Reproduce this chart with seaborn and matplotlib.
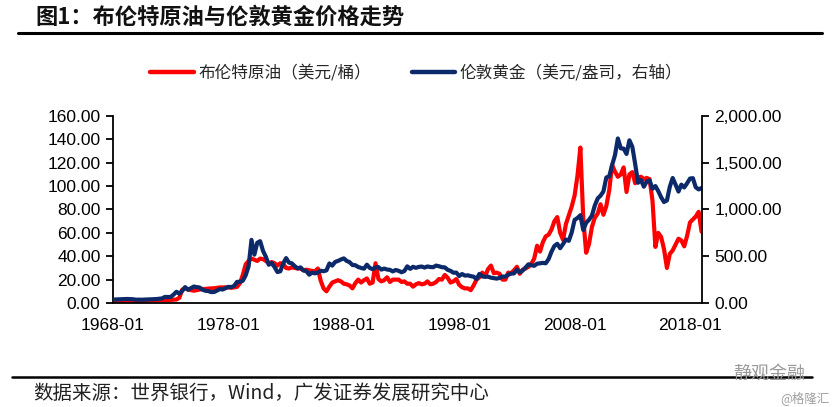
import numpy as np
import pandas as pd
import matplotlib
matplotlib.use("Agg")
import matplotlib.pyplot as plt
import matplotlib.ticker as mticker
from matplotlib.lines import Line2D
import seaborn as sns

# quarterly samples (Jan / Apr / Jul / Oct), 1968-01 .. 2019-01
dates = pd.date_range("1968-01-01", "2019-01-01", freq="QS")

brent = [
    1.9, 1.9, 1.9, 1.9,        # 1968
    1.8, 1.8, 1.8, 1.8,        # 1969
    1.8, 1.8, 1.8, 2.0,        # 1970
    2.2, 2.2, 2.2, 2.2,        # 1971
    2.5, 2.5, 2.5, 2.5,        # 1972
    2.7, 2.9, 3.0, 4.5,        # 1973
    11.5, 12.5, 11.5, 11.0,    # 1974
    10.5, 11.0, 11.5, 12.0,    # 1975
    12.0, 12.3, 12.5, 12.6,    # 1976
    13.0, 13.3, 13.3, 13.4,    # 1977
    13.3, 13.0, 13.4, 13.8,    # 1978
    17.0, 24.0, 33.0, 36.0,    # 1979
    38.0, 37.0, 36.0, 38.0,    # 1980
    37.5, 36.0, 34.0, 35.0,    # 1981
    34.0, 32.0, 34.0, 33.5,    # 1982
    30.0, 29.5, 30.5, 30.0,    # 1983
    29.5, 29.5, 28.0, 28.5,    # 1984
    28.0, 27.5, 27.0, 29.5,    # 1985
    19.0, 12.5, 10.0, 14.0,    # 1986
    17.5, 18.5, 19.5, 18.5,    # 1987
    16.5, 16.0, 15.0, 12.5,    # 1988
    17.0, 20.0, 17.5, 19.5,    # 1989
    21.0, 16.5, 17.5, 34.0,    # 1990
    20.5, 18.5, 19.5, 22.0,    # 1991
    18.0, 20.0, 20.0, 20.0,    # 1992
    18.0, 18.5, 16.5, 16.5,    # 1993
    14.0, 16.0, 17.0, 16.0,    # 1994
    16.5, 18.5, 16.0, 16.5,    # 1995
    18.0, 20.5, 20.0, 24.0,    # 1996
    21.5, 17.5, 18.5, 20.5,    # 1997
    15.5, 13.5, 12.5, 12.5,    # 1998
    11.0, 15.0, 20.0, 22.0,    # 1999
    26.0, 23.0, 29.0, 32.0,    # 2000
    25.5, 26.0, 25.0, 20.0,    # 2001
    20.0, 26.0, 25.5, 28.0,    # 2002
    31.0, 25.0, 28.5, 29.5,    # 2003
    31.0, 33.5, 38.0, 49.0,    # 2004
    44.0, 52.0, 57.0, 58.5,    # 2005
    63.0, 70.0, 73.5, 60.0,    # 2006
    54.0, 67.5, 75.0, 82.5,    # 2007
    92.0, 109.0, 133.0, 72.0,  # 2008
    43.0, 50.5, 65.0, 73.0,    # 2009
    76.5, 84.5, 75.5, 83.0,    # 2010
    96.5, 118.0, 112.5, 108.0, # 2011
    110.0, 116.0, 95.0, 110.0, # 2012
    112.0, 102.5, 107.5, 108.0,# 2013
    106.0, 107.0, 106.0, 87.5, # 2014
    48.0, 60.0, 56.5, 46.0,    # 2015
    30.0, 42.0, 45.0, 50.0,    # 2016
    55.0, 53.5, 48.5, 57.5,    # 2017
    69.0, 71.5, 74.0, 78.0,    # 2018
    61.0,                      # 2019
]

gold = [
    35, 38, 39, 40,          # 1968
    42, 43, 41, 40,          # 1969
    35, 36, 35, 37,          # 1970
    38, 39, 41, 42,          # 1971
    46, 49, 65, 64,          # 1972
    65, 90, 120, 100,        # 1973
    130, 170, 143, 158,      # 1974
    176, 170, 166, 143,      # 1975
    131, 128, 117, 117,      # 1976
    132, 149, 144, 159,      # 1977
    173, 170, 183, 226,      # 1978
    227, 238, 296, 392,      # 1979
    675, 517, 644, 661,      # 1980
    557, 494, 409, 428,      # 1981
    384, 331, 339, 423,      # 1982
    480, 432, 424, 394,      # 1983
    370, 381, 348, 341,      # 1984
    303, 325, 317, 326,      # 1985
    345, 340, 349, 423,      # 1986
    400, 439, 450, 465,      # 1987
    477, 450, 437, 406,      # 1988
    404, 385, 375, 367,      # 1989
    410, 375, 362, 380,      # 1990
    384, 357, 368, 358,      # 1991
    354, 338, 353, 344,      # 1992
    329, 342, 392, 365,      # 1993
    387, 376, 386, 390,      # 1994
    379, 391, 385, 383,      # 1995
    400, 393, 383, 381,      # 1996
    355, 344, 324, 325,      # 1997
    289, 310, 293, 296,      # 1998
    287, 282, 256, 311,      # 1999
    284, 280, 282, 271,      # 2000
    266, 261, 268, 283,      # 2001
    282, 302, 314, 317,      # 2002
    357, 328, 347, 379,      # 2003
    414, 404, 398, 420,      # 2004
    424, 429, 425, 470,      # 2005
    550, 610, 633, 586,      # 2006
    631, 679, 665, 754,      # 2007
    889, 909, 939, 780,      # 2008
    858, 890, 934, 1043,     # 2009
    1118, 1148, 1193, 1342,  # 2010
    1356, 1474, 1580, 1760,  # 2011
    1654, 1651, 1594, 1740,  # 2012
    1671, 1486, 1286, 1316,  # 2013
    1244, 1299, 1311, 1222,  # 2014
    1251, 1197, 1131, 1080,  # 2015
    1097, 1243, 1337, 1266,  # 2016
    1192, 1266, 1236, 1281,  # 2017
    1331, 1335, 1238, 1215,  # 2018
    1230,                    # 2019
]

xtick_labels = ["1968-01", "1978-01", "1988-01", "1998-01", "2008-01", "2018-01"]

title = "图1：布伦特原油与伦敦黄金价格走势"
oil_name = "布伦特原油（美元/桶）"
gold_name = "伦敦黄金（美元/盎司，右轴）"
source = "数据来源：世界银行，Wind，广发证券发展研究中心"

RED = "#FF0000"
NAVY = "#0C2A6A"

sns.set_style("white")
plt.rcParams["font.family"] = ["Liberation Sans", "Noto Sans CJK SC", "DejaVu Sans"]
cjk = ["Noto Sans CJK SC", "DejaVu Sans"]

df = pd.DataFrame({"date": dates, "oil": brent, "gold": gold})

fig = plt.figure(figsize=(8.33, 4.07), dpi=100)
W, H = 833, 407
ax = fig.add_axes([113 / W, 1 - 303 / H, (702 - 113) / W, (303 - 116) / H])
ax2 = ax.twinx()

sns.lineplot(data=df, x="date", y="oil", ax=ax, color=RED, lw=3.0, legend=False)
sns.lineplot(data=df, x="date", y="gold", ax=ax2, color=NAVY, lw=3.0, legend=False)

ax.set_xlim(pd.Timestamp("1968-01-01"), pd.Timestamp("2019-01-15"))
ax.set_ylim(0, 160)
ax2.set_ylim(0, 2000)
ax.set_yticks(np.arange(0, 161, 20))
ax2.set_yticks(np.arange(0, 2001, 500))
ax.yaxis.set_major_formatter(mticker.FuncFormatter(lambda v, p: f"{v:.2f}"))
ax2.yaxis.set_major_formatter(mticker.FuncFormatter(lambda v, p: f"{v:,.2f}"))
ax.set_xticks(pd.to_datetime(xtick_labels, format="%Y-%m"))
ax.set_xticklabels(xtick_labels)
ax.set_xlabel("")
ax.set_ylabel("")
ax2.set_ylabel("")

for a in (ax, ax2):
    for s in a.spines.values():
        s.set_color("black")
        s.set_linewidth(1.3)
    a.spines["top"].set_visible(False)
    a.tick_params(colors="black", labelsize=12.5, length=5, width=1.3, pad=4)
ax.spines["right"].set_visible(False)
ax2.spines["left"].set_visible(False)
ax2.spines["bottom"].set_visible(False)
ax.tick_params(axis="x", direction="out", pad=6)

# legend
handles = [Line2D([], [], color=RED, lw=3.2), Line2D([], [], color=NAVY, lw=3.2)]
fig.legend(handles, [oil_name, gold_name], loc="center", bbox_to_anchor=(0.5, 1 - 73 / H),
           ncol=2, frameon=False, handlelength=2.6, handletextpad=0.3, columnspacing=2.4,
           prop={"family": cjk, "size": 12})

# title and rules
fig.text(35 / W, 1 - 17 / H, title, fontsize=16, fontweight="bold", family=cjk,
         va="center", ha="left", color="#111111")
fig.add_artist(Line2D([18 / W, 822 / W], [1 - 33 / H, 1 - 33 / H], color="black", lw=2.2))
fig.add_artist(Line2D([12 / W, 812 / W], [1 - 377 / H, 1 - 377 / H], color="black", lw=1.8))
fig.text(33 / W, 1 - 393 / H, source, fontsize=14, family=cjk, va="center", ha="left",
         color="#222222")

# watermark
fig.text(733 / W, 1 - 374 / H, "静观金融", fontsize=13, family=cjk, va="center", ha="left",
         color="#9a9a9a")
fig.text(830 / W, 1 - 398 / H, "@格隆汇", fontsize=9, family=cjk, va="center", ha="right",
         color="#a0a0a0")

fig.savefig("out.png", dpi=100)
